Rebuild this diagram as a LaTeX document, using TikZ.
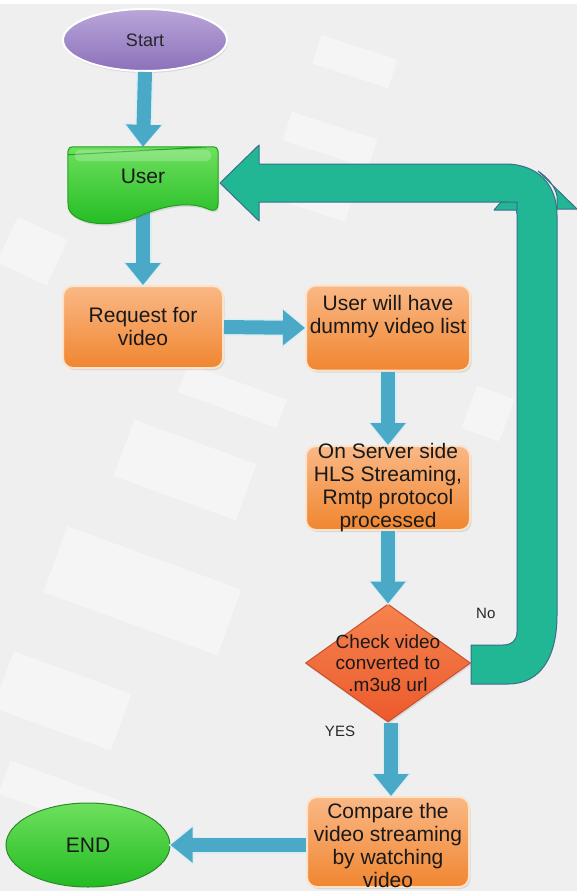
\documentclass[tikz,border=0pt]{standalone}
\usepackage{fontspec}
\setmainfont{Liberation Sans}
\newfontfamily\serifp{Liberation Serif}
\usetikzlibrary{arrows.meta,shapes.geometric,shadows}
\definecolor{bgc}{HTML}{EFEFEF}
\definecolor{ablue}{HTML}{4AA9C7}
\definecolor{ablueedge}{HTML}{DCEEF4}
\definecolor{teal1}{HTML}{21B794}
\definecolor{tealedge}{HTML}{3A6E8C}
\definecolor{orTop}{HTML}{FAB886}
\definecolor{orBot}{HTML}{F08630}
\definecolor{orEdge}{HTML}{FCE3CC}
\definecolor{grTop}{HTML}{6EE05E}
\definecolor{grBot}{HTML}{22BB22}
\definecolor{grEdge}{HTML}{23A023}
\definecolor{puTop}{HTML}{B9A6DA}
\definecolor{puBot}{HTML}{8C71BA}
\definecolor{dTop}{HTML}{F6834F}
\definecolor{dBot}{HTML}{EC5A2C}
\definecolor{dEdge}{HTML}{C9502D}
\definecolor{enEdge}{HTML}{2C8A2C}
\tikzset{
  streak/.style={fill=white, opacity=0.4, draw=none},
  orbox/.style={rectangle, rounded corners=10pt, top color=orTop, bottom color=orBot,
     draw=orEdge, line width=2pt, inner sep=0pt,
     drop shadow={opacity=0.22, shadow xshift=1.5pt, shadow yshift=-2pt}},
  boxtext/.style={align=center, font=\fontsize{21}{23}\selectfont, text=black!90, inner sep=0pt},
  barrow/.style={line width=14pt, draw=ablue, -{Triangle[width=34pt,length=22pt]},
     preaction={draw=ablueedge, line width=17pt, -{Triangle[width=39pt,length=25pt]}, shorten >=-2pt}},
  tealshape/.style={fill=teal1, draw=tealedge, line width=1pt, line join=round},
  smalllabel/.style={font=\fontsize{15}{17}\selectfont, text=black!85, inner sep=0pt}
}
\begin{document}
\begin{tikzpicture}[x=1pt,y=-1pt]
\useasboundingbox (0,0) rectangle (577,891);
% background
\fill[white] (0,0) rectangle (577,891);
\fill[bgc] (0,4) rectangle (577,891);
\begin{scope}
\clip (0,0) rectangle (577,4);
\node[font=\serifp\fontsize{22}{24}\selectfont, inner sep=0pt] (pfrag) at (503,-8) {p};
\end{scope}
% faint streaks
\begin{scope}
\clip (0,4) rectangle (577,891);
\fill[streak, rotate around={-18:(350,60)}] (315,45) rectangle (395,75);
\fill[streak, rotate around={-18:(330,140)}] (285,125) rectangle (375,155);
\fill[streak, rotate around={-18:(310,200)}] (270,188) rectangle (350,210);
\fill[streak, rotate around={-20:(185,470)}] (120,440) rectangle (250,500);
\fill[streak, rotate around={-20:(140,590)}] (50,555) rectangle (235,625);
\fill[streak, rotate around={-20:(60,700)}] (0,670) rectangle (125,730);
\fill[streak, rotate around={-25:(30,250)}] (5,225) rectangle (60,275);
\fill[streak, rotate around={-20:(230,395)}] (180,380) rectangle (285,410);
\fill[streak, rotate around={-20:(500,410)}] (470,395) rectangle (510,440);
\fill[streak, rotate around={-20:(60,800)}] (0,780) rectangle (120,815);
\end{scope}

% ---- nodes ----
\node[ellipse, minimum width=164pt, minimum height=62pt, inner sep=0pt,
      top color=puTop, bottom color=puBot, draw=white, line width=2pt,
      drop shadow={opacity=0.2, shadow xshift=1pt, shadow yshift=-2pt},
      font=\fontsize{18}{20}\selectfont, text=black!85] (start) at (145,40) {Start};
\node[rectangle, minimum width=150pt, minimum height=78pt, inner sep=0pt] (user) at (143,186) {};
\node[orbox, minimum width=160pt, minimum height=82pt] (req) at (143,327) {};
\node[orbox, minimum width=164pt, minimum height=85pt] (dummy) at (388,328) {};
\node[orbox, minimum width=164pt, minimum height=84pt] (server) at (388,488) {};
\node[diamond, minimum width=165pt, minimum height=118pt, inner sep=0pt,
      top color=dTop, bottom color=dBot, draw=dEdge, line width=1pt,
      drop shadow={opacity=0.2, shadow xshift=1pt, shadow yshift=-2pt}] (chk) at (388,663) {};
\node[orbox, minimum width=162pt, minimum height=90pt] (cmp) at (388,842) {};
\node[ellipse, minimum width=164pt, minimum height=84pt, inner sep=0pt,
      top color=grTop, bottom color=grBot, draw=enEdge, line width=1pt,
      font=\fontsize{21}{23}\selectfont, text=black!90] (endn) at (88,845) {END};

% ---- blue connectors ----
\draw[barrow] (start.south) -- (user.north);
\coordinate (uout) at (143,212);
\draw[barrow] (uout) -- (req.north);
\draw[barrow] (req.east) -- (dummy.west);
\draw[barrow] (dummy.south) -- (server.north);
\draw[barrow] (server.south) -- (chk.north);
\draw[barrow] ([xshift=3pt]chk.south) -- ([xshift=3pt]cmp.north);
\draw[barrow] (cmp.west |- endn.east) -- (endn.east);

% ---- user document shape ----
\shade[top color=grTop, bottom color=grBot, draw=grEdge, line width=1pt,
       drop shadow={opacity=0.2, shadow xshift=1pt, shadow yshift=-2pt}]
  ([yshift=-8pt]user.north west) -- ([xshift=-8pt]user.north east)
  .. controls ([xshift=-2pt]user.north east) and (user.north east) .. ([yshift=-8pt]user.north east)
  -- (218,204) .. controls (218,210) and (214,212) .. (208,209)
  .. controls (190,201) and (165,205) .. (140,216)
  .. controls (115,227) and (85,226) .. (72,214)
  .. controls (69,211) and (68,208) .. (68,203)
  -- ([yshift=-8pt]user.north west)
  .. controls (user.north west) and ([xshift=2pt]user.north west) .. ([xshift=8pt]user.north west)
  -- ([xshift=-8pt]user.north east);
\fill[white, opacity=0.22, rounded corners=4pt] (75,150) rectangle (211,161);
\node[font=\fontsize{21}{23}\selectfont, text=black!90, inner sep=0pt] (usert) at (143,176) {User};

% ---- teal feedback arrow ----
\draw[tealshape]
  (220,183) -- (259,145) -- (259,164) -- (505,164)
  .. controls (538,164) and (557,185) .. (557,215)
  -- (557,615) .. controls (557,658) and (540,684) .. (508,684)
  -- (471,684) -- (471,645) -- (503,645)
  .. controls (512,645) and (517,640) .. (517,632)
  -- (517,214) .. controls (517,207) and (513,202) .. (506,202)
  -- (259,202) -- (259,221) -- cycle;
\draw[tealshape] (494,210) -- (501,202) -- (517,202) -- (517,210) -- cycle;
\draw[tealshape] (538,171) -- (577,209) -- (557,209) -- (557,196) .. controls (555,186) and (548,178) .. (538,171);

% ---- texts ----
\node[boxtext] (reqt) at (req) {Request for\\video};
\node[boxtext] (dummyt) at ([yshift=11pt]dummy.center) {User will have\\dummy video list};
\node[boxtext] (servert) at (server) {On Server side\\HLS Streaming,\\Rmtp protocol\\processed};
\node[align=center, font=\fontsize{19}{21.5}\selectfont, text=black!90, inner sep=0pt] (chkt) at (chk.center) {Check video\\converted to\\.m3u8 url};
\node[boxtext] (cmpt) at ([yshift=-3pt]cmp.center) {Compare the\\video streaming\\by watching\\video};
\node[smalllabel] (yes) at (340,731) {YES};
\begin{scope}
\clip (470,590) rectangle (498,640);
\node[smalllabel, anchor=west] (nolab) at (476,613) {No};
\end{scope}
\end{tikzpicture}
\end{document}
